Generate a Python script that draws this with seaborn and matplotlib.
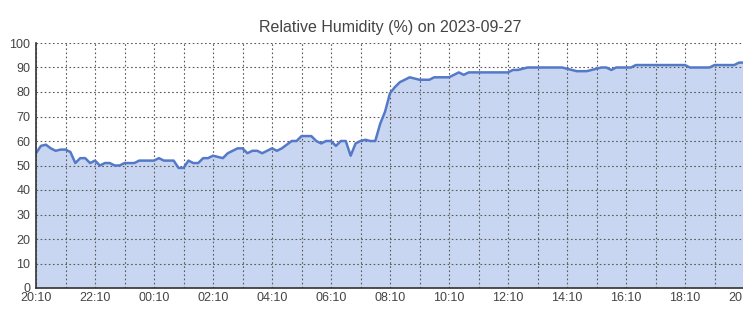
import matplotlib
matplotlib.use("Agg")
import matplotlib.pyplot as plt
import seaborn as sns
import pandas as pd

title = "Relative Humidity (%) on 2023-09-27"
start_time = "2023-09-26 20:10"
humidity = [
    55, 58, 58.5, 57, 56, 56.5, 56.5, 55.5, 51, 53,
    53, 51, 52, 50, 51, 51, 50, 50, 51, 51,
    51, 52, 52, 52, 52, 53, 52, 52, 52, 49,
    49, 52, 51, 51, 53, 53, 54, 53.5, 53, 55,
    56, 57, 57, 55, 56, 56, 55, 56, 57, 56,
    57, 58.5, 60, 60, 62, 62, 62, 60, 59, 60,
    60, 58, 60, 60, 54, 59, 60, 60.5, 60, 60,
    67, 72, 79.5, 82, 84, 85, 86, 85.5, 85, 85,
    85, 86, 86, 86, 86, 87, 88, 87, 88, 88,
    88, 88, 88, 88, 88, 88, 88, 89, 89, 89.5,
    90, 90, 90, 90, 90, 90, 90, 90, 89.5, 89,
    88.5, 88.5, 88.5, 89, 89.5, 90, 90, 89, 90, 90,
    90, 90, 91, 91, 91, 91, 91, 91, 91, 91,
    91, 91, 91, 90, 90, 90, 90, 90, 91, 91,
    91, 91, 91, 92, 92,
]
yticks = [0, 10, 20, 30, 40, 50, 60, 70, 80, 90, 100]

times = pd.date_range(start_time, periods=len(humidity), freq="10min")
df = pd.DataFrame({"time": times, "humidity": humidity})

sns.set_style("white")
plt.rcParams["font.family"] = ["Liberation Sans", "DejaVu Sans"]

fig = plt.figure(figsize=(7.43, 3.34), dpi=100)
ax = fig.add_axes([36 / 743, 1 - 288 / 334, 708 / 743, 245 / 334])

line_color = "#5479c8"
fill_color = "#c9d6f1"

ax.fill_between(df["time"], df["humidity"], 0, color=fill_color, linewidth=0, zorder=1)
sns.lineplot(data=df, x="time", y="humidity", ax=ax, color=line_color, linewidth=1.8, zorder=3)

ax.set_xlim(times[0], times[-1])
ax.set_ylim(0, 100)
ax.set_yticks(yticks)

ticks = pd.date_range(start_time, periods=13, freq="2h")
ax.set_xticks(ticks)
ax.set_xticklabels([t.strftime("%H:%M") for t in ticks])
minor = pd.date_range(start_time, periods=25, freq="1h")
ax.set_xticks(minor, minor=True)

grid_kw = dict(color="#5a5a5a", linestyle=(0, (1.5, 2.2)), linewidth=0.8)
ax.grid(True, which="both", axis="x", **grid_kw)
ax.grid(True, which="major", axis="y", **grid_kw)
for l in ax.get_xgridlines() + ax.get_ygridlines() + ax.xaxis.get_minorticklines():
    l.set_zorder(2)
ax.set_axisbelow(False)

ax.set_xlabel("")
ax.set_ylabel("")
ax.set_title(title, fontsize=11.5, color="#444444", pad=8)

for s in ["top", "right"]:
    ax.spines[s].set_visible(False)
for s in ["left", "bottom"]:
    ax.spines[s].set_color("#333333")
    ax.spines[s].set_linewidth(1.2)
    ax.spines[s].set_zorder(4)

ax.tick_params(axis="both", which="both", length=0, labelsize=9, colors="#444444", pad=3)
ax.tick_params(axis="y", pad=4)

fig.savefig("out.png", dpi=100)
